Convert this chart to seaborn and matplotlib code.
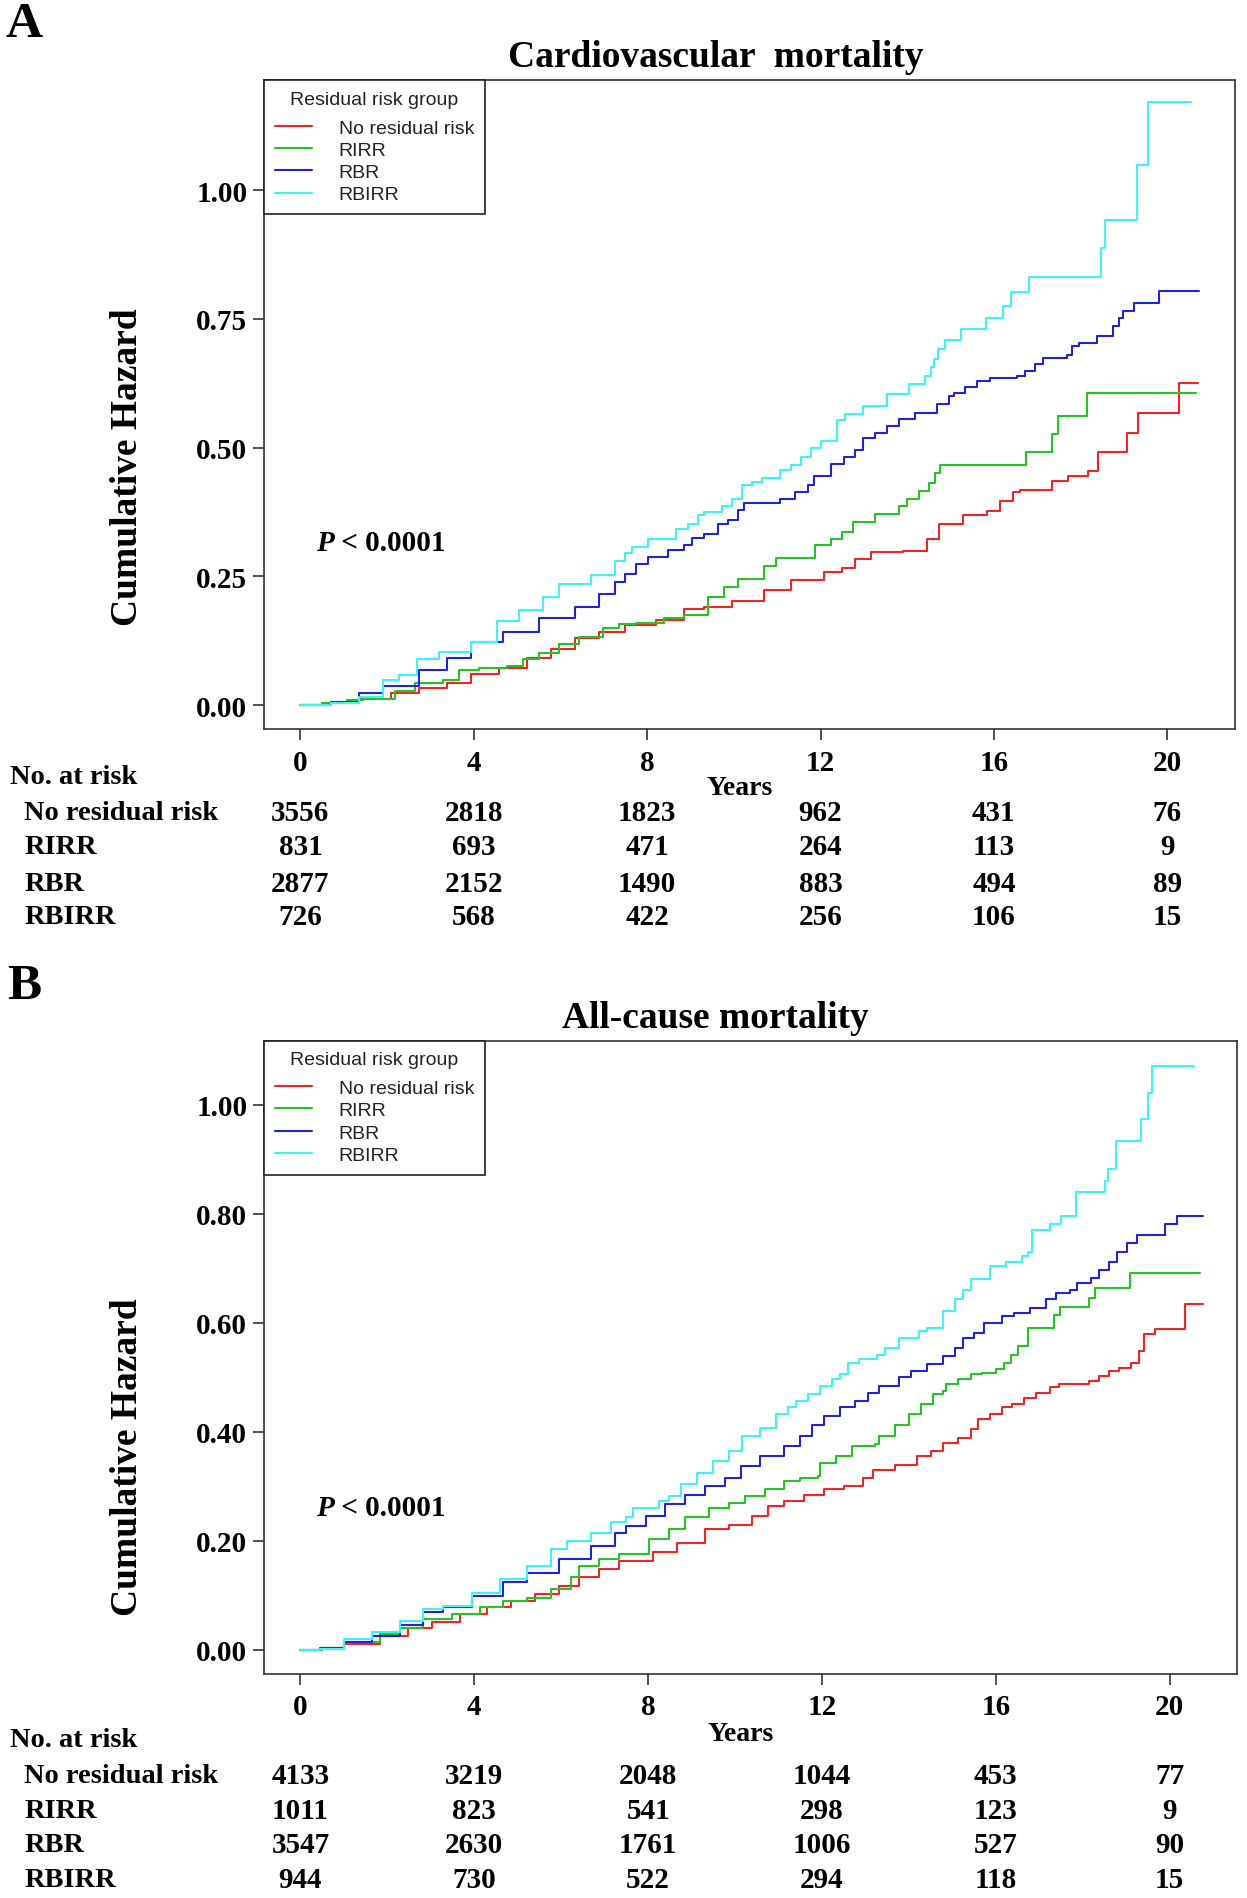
import numpy as np
import pandas as pd
import matplotlib
matplotlib.use("Agg")
import matplotlib.pyplot as plt
import matplotlib.transforms as mtrans
from matplotlib.lines import Line2D
from matplotlib.font_manager import FontProperties
import seaborn as sns

groups = ["No residual risk", "RIRR", "RBR", "RBIRR"]
colors = ["#F02424", "#26C226", "#2323D6", "#3DF4F4"]
year_ticks = [0, 4, 8, 12, 16, 20]

# ---- A: cardiovascular mortality (time in years, cumulative hazard)
cv_nrr_t = [0, 0.6, 1.35, 2.09, 2.74, 3.38, 3.94, 4.58, 5.23, 5.78, 6.33, 6.88, 7.48, 8.2, 8.85, 9.3, 9.96,
            10.7, 11.33, 12.07, 12.5, 12.8, 13.17, 13.9, 14.46, 14.73, 15.28, 15.83, 16.15, 16.43, 16.6,
            17.34, 17.7, 18.17, 18.4, 19.07, 19.32, 20.28, 20.72]
cv_nrr_h = [0, 0.005, 0.012, 0.024, 0.034, 0.044, 0.061, 0.072, 0.092, 0.109, 0.131, 0.143, 0.155, 0.165,
            0.186, 0.19, 0.2025, 0.223, 0.243, 0.259, 0.267, 0.283, 0.298, 0.300, 0.322, 0.352, 0.370,
            0.378, 0.397, 0.414, 0.418, 0.436, 0.445, 0.455, 0.492, 0.528, 0.567, 0.625, 0.625]
cv_rirr_t = [0, 0.5, 1.08, 1.45, 2.18, 2.65, 3.29, 3.66, 4.12, 4.76, 5.13, 5.5, 5.96, 6.42, 6.98, 7.35, 7.75,
             8.4, 8.85, 9.4, 9.77, 10.1, 10.7, 10.97, 11.88, 12.25, 12.5, 12.76, 13.26, 13.8, 14.0, 14.27,
             14.5, 14.64, 14.75, 16.73, 17.35, 17.47, 18.15, 20.67]
cv_rirr_h = [0, 0.004, 0.01, 0.012, 0.027, 0.044, 0.048, 0.068, 0.072, 0.076, 0.089, 0.102, 0.119, 0.133,
             0.15, 0.157, 0.160, 0.17, 0.175, 0.21, 0.23, 0.245, 0.27, 0.286, 0.312, 0.323, 0.336, 0.356,
             0.371, 0.387, 0.40, 0.416, 0.432, 0.451, 0.466, 0.492, 0.527, 0.562, 0.606, 0.606]
cv_rbr_t = [0, 0.7, 1.35, 1.9, 2.74, 3.38, 3.94, 4.67, 5.5, 6.33, 6.88, 7.25, 7.48, 7.75, 8.03, 8.49, 8.85,
            9.04, 9.31, 9.63, 9.86, 10.1, 10.23, 11.06, 11.4, 11.7, 11.84, 12.25, 12.53, 12.8, 12.99, 13.26,
            13.54, 13.81, 14.18, 14.69, 14.97, 15.07, 15.34, 15.6, 15.9, 16.54, 16.72, 16.95, 17.13, 17.68,
            17.8, 17.96, 18.37, 18.74, 18.88, 18.97, 19.23, 19.8, 20.73]
cv_rbr_h = [0, 0.006, 0.024, 0.0375, 0.068, 0.092, 0.123, 0.143, 0.17, 0.191, 0.215, 0.239, 0.254, 0.274,
            0.288, 0.301, 0.311, 0.325, 0.332, 0.352, 0.359, 0.379, 0.393, 0.40, 0.414, 0.427, 0.446, 0.468,
            0.481, 0.495, 0.519, 0.529, 0.543, 0.555, 0.567, 0.584, 0.601, 0.607, 0.617, 0.63, 0.636, 0.64,
            0.649, 0.662, 0.675, 0.681, 0.697, 0.704, 0.717, 0.736, 0.752, 0.766, 0.781, 0.805, 0.805]
cv_rbirr_t = [0, 0.7, 1.35, 1.9, 2.28, 2.69, 3.2, 3.94, 4.53, 5.04, 5.59, 5.96, 6.7, 7.25, 7.48, 7.66, 8.03,
              8.67, 8.95, 9.18, 9.31, 9.73, 9.96, 10.19, 10.41, 10.64, 11.06, 11.33, 11.56, 11.79, 12.02,
              12.39, 12.57, 12.99, 13.53, 14.04, 14.4, 14.55, 14.62, 14.7, 14.88, 15.23, 15.82, 16.22, 16.4,
              16.81, 18.47, 18.56, 19.29, 19.55, 20.55]
cv_rbirr_h = [0, 0.005, 0.015, 0.048, 0.058, 0.089, 0.104, 0.123, 0.164, 0.184, 0.211, 0.235, 0.252, 0.28,
              0.295, 0.308, 0.322, 0.342, 0.352, 0.37, 0.376, 0.387, 0.40, 0.427, 0.434, 0.441, 0.457, 0.467,
              0.481, 0.499, 0.514, 0.554, 0.566, 0.581, 0.604, 0.623, 0.64, 0.656, 0.672, 0.691, 0.709, 0.730,
              0.752, 0.775, 0.802, 0.831, 0.887, 0.943, 1.050, 1.172, 1.172]

cv_risk_nrr = [3556, 2818, 1823, 962, 431, 76]
cv_risk_rirr = [831, 693, 471, 264, 113, 9]
cv_risk_rbr = [2877, 2152, 1490, 883, 494, 89]
cv_risk_rbirr = [726, 568, 422, 256, 106, 15]

# ---- B: all-cause mortality
ac_nrr_t = [0, 0.5, 1.0, 1.83, 2.47, 3.02, 3.66, 4.3, 4.85, 5.4, 5.95, 6.41, 6.87, 7.33, 8.12, 8.67, 9.3,
            9.85, 10.4, 10.76, 11.13, 11.59, 12.04, 12.5, 12.95, 13.18, 13.68, 14.19, 14.5, 14.78, 15.14,
            15.42, 15.6, 15.87, 16.15, 16.38, 16.65, 16.92, 17.24, 17.45, 18.15, 18.38, 18.61, 18.84, 19.11,
            19.3, 19.41, 19.66, 20.35, 20.76]
ac_nrr_h = [0, 0.002, 0.01, 0.026, 0.041, 0.051, 0.066, 0.078, 0.09, 0.102, 0.118, 0.133, 0.148, 0.163,
            0.179, 0.197, 0.221, 0.23, 0.246, 0.264, 0.273, 0.285, 0.295, 0.301, 0.316, 0.331, 0.34, 0.355,
            0.365, 0.38, 0.389, 0.405, 0.424, 0.433, 0.445, 0.451, 0.463, 0.472, 0.482, 0.488, 0.494, 0.503,
            0.512, 0.518, 0.527, 0.548, 0.579, 0.589, 0.635, 0.635]
ac_rirr_t = [0, 0.5, 1.0, 1.83, 2.28, 2.83, 3.48, 4.12, 4.67, 5.22, 5.77, 6.23, 6.41, 6.87, 7.33, 8.03, 8.48,
             8.85, 9.4, 9.85, 10.22, 10.68, 11.13, 11.49, 11.9, 11.95, 12.32, 12.68, 13.23, 13.32, 13.68,
             14.0, 14.28, 14.55, 14.78, 14.85, 15.14, 15.42, 15.69, 16.01, 16.19, 16.35, 16.51, 16.74, 17.33,
             17.47, 18.15, 18.29, 19.09, 20.69]
ac_rirr_h = [0, 0.003, 0.014, 0.029, 0.041, 0.057, 0.066, 0.078, 0.09, 0.096, 0.112, 0.133, 0.154, 0.166,
             0.176, 0.203, 0.221, 0.243, 0.261, 0.27, 0.282, 0.295, 0.31, 0.316, 0.319, 0.343, 0.355, 0.374,
             0.377, 0.392, 0.412, 0.433, 0.451, 0.469, 0.476, 0.488, 0.497, 0.506, 0.509, 0.515, 0.527, 0.542,
             0.557, 0.591, 0.615, 0.629, 0.646, 0.664, 0.691, 0.691]
ac_rbr_t = [0, 0.45, 1.0, 1.64, 2.28, 2.83, 3.29, 3.94, 4.67, 5.22, 5.95, 6.69, 7.24, 7.48, 7.94, 8.39, 8.85,
            9.3, 9.76, 10.13, 10.58, 11.13, 11.49, 11.77, 12.04, 12.41, 12.77, 13.05, 13.32, 13.78, 14.05,
            14.41, 14.78, 15.05, 15.24, 15.51, 15.74, 16.15, 16.42, 16.79, 17.15, 17.38, 17.7, 17.88, 18.2,
            18.38, 18.61, 18.79, 19.02, 19.25, 19.89, 20.16, 20.76]
ac_rbr_h = [0, 0.003, 0.014, 0.026, 0.045, 0.069, 0.078, 0.099, 0.124, 0.142, 0.166, 0.191, 0.215, 0.227,
            0.246, 0.267, 0.285, 0.3, 0.316, 0.337, 0.355, 0.374, 0.392, 0.412, 0.43, 0.445, 0.457, 0.472,
            0.484, 0.5, 0.512, 0.524, 0.539, 0.554, 0.573, 0.582, 0.6, 0.612, 0.618, 0.627, 0.643, 0.655,
            0.661, 0.673, 0.682, 0.697, 0.712, 0.731, 0.746, 0.761, 0.782, 0.796, 0.796]
ac_rbirr_t = [0, 0.45, 1.0, 1.64, 2.28, 2.83, 3.29, 3.94, 4.58, 5.22, 5.77, 6.14, 6.69, 7.15, 7.48, 7.66,
              8.26, 8.48, 8.76, 9.12, 9.49, 9.85, 10.17, 10.58, 10.95, 11.22, 11.4, 11.68, 11.95, 12.22,
              12.41, 12.59, 12.86, 13.27, 13.46, 13.78, 14.23, 14.41, 14.78, 15.05, 15.24, 15.42, 15.86,
              16.24, 16.6, 16.74, 16.83, 17.24, 17.49, 17.84, 18.52, 18.59, 18.77, 19.34, 19.5, 19.59, 20.57]
ac_rbirr_h = [0, 0.002, 0.02, 0.032, 0.054, 0.075, 0.081, 0.105, 0.13, 0.154, 0.185, 0.2, 0.215, 0.234,
              0.243, 0.261, 0.273, 0.282, 0.304, 0.325, 0.346, 0.365, 0.392, 0.408, 0.433, 0.445, 0.457,
              0.469, 0.484, 0.497, 0.506, 0.527, 0.533, 0.542, 0.554, 0.573, 0.585, 0.591, 0.621, 0.643,
              0.661, 0.680, 0.705, 0.712, 0.722, 0.731, 0.771, 0.781, 0.796, 0.84, 0.861, 0.883, 0.934,
              0.974, 1.022, 1.072, 1.072]

ac_risk_nrr = [4133, 3219, 2048, 1044, 453, 77]
ac_risk_rirr = [1011, 823, 541, 298, 123, 9]
ac_risk_rbr = [3547, 2630, 1761, 1006, 527, 90]
ac_risk_rbirr = [944, 730, 522, 294, 118, 15]


def long_frame(curves):
    parts = []
    for name, (t, h) in zip(groups, curves):
        parts.append(pd.DataFrame({"time": t, "hazard": h, "group": name}))
    return pd.concat(parts, ignore_index=True)


cv_df = long_frame([(cv_nrr_t, cv_nrr_h), (cv_rirr_t, cv_rirr_h),
                    (cv_rbr_t, cv_rbr_h), (cv_rbirr_t, cv_rbirr_h)])
ac_df = long_frame([(ac_nrr_t, ac_nrr_h), (ac_rirr_t, ac_rirr_h),
                    (ac_rbr_t, ac_rbr_h), (ac_rbirr_t, ac_rbirr_h)])

sns.set_style("white")
plt.rcParams["font.family"] = ["Liberation Serif", "DejaVu Serif"]
plt.rcParams["font.weight"] = "bold"
plt.rcParams["text.color"] = "black"
plt.rcParams["axes.labelcolor"] = "black"
plt.rcParams["xtick.labelcolor"] = "black"
plt.rcParams["ytick.labelcolor"] = "black"

fig = plt.figure(figsize=(12.47, 18.99), dpi=100)
leg_font = FontProperties(family=["Liberation Sans", "DejaVu Sans"], size=14, weight="normal")

panels = [
    dict(df=cv_df, rect=[0.2117, 0.6154, 0.7786, 0.3419], ylim=(-0.047, 1.214),
         yt=[0, 0.25, 0.5, 0.75, 1.0], title="Cardiovascular  mortality", title_y=0.9695,
         letter="A", letter_y=0.987, ylab_y=0.7538, p_y=0.315,
         risk=[cv_risk_nrr, cv_risk_rirr, cv_risk_rbr, cv_risk_rbirr],
         head_y=-0.0728, rows_y=[-0.1287, -0.181, -0.237, -0.289], years_y=-0.0896),
    dict(df=ac_df, rect=[0.2117, 0.1180, 0.7806, 0.3335], ylim=(-0.044, 1.118),
         yt=[0, 0.2, 0.4, 0.6, 0.8, 1.0], title="All-cause mortality", title_y=0.4635,
         letter="B", letter_y=0.4802, ylab_y=0.2328, p_y=0.262,
         risk=[ac_risk_nrr, ac_risk_rirr, ac_risk_rbr, ac_risk_rbirr],
         head_y=-0.1033, rows_y=[-0.1606, -0.216, -0.2696, -0.325], years_y=-0.0937),
]

for p in panels:
    ax = fig.add_axes(p["rect"])
    sns.lineplot(data=p["df"], x="time", y="hazard", hue="group", hue_order=groups,
                 palette=colors, drawstyle="steps-post", estimator=None, sort=False,
                 lw=1.5, legend=False, ax=ax)
    ax.set_xlim(-0.84, 21.56)
    ax.set_ylim(*p["ylim"])
    ax.set_xticks(year_ticks)
    ax.set_xticklabels([str(v) for v in year_ticks])
    ax.set_yticks(p["yt"])
    ax.set_yticklabels(["%.2f" % v for v in p["yt"]])
    ax.set_xlabel("")
    ax.set_ylabel("")
    for s in ax.spines.values():
        s.set_color("#333333")
        s.set_linewidth(1.2)
    ax.tick_params(axis="both", which="major", direction="out", length=8, width=1.2,
                   color="#333333", labelcolor="black", labelsize=21, bottom=True, left=True)
    ax.tick_params(axis="x", pad=6)
    ax.tick_params(axis="y", pad=4)

    handles = [Line2D([], [], color=c, lw=1.5) for c in colors]
    leg = ax.legend(handles, groups, title="Residual risk group", loc="upper left",
                    bbox_to_anchor=(0, 1), borderaxespad=0, fancybox=False, framealpha=1,
                    edgecolor="#222222", prop=leg_font, title_fontproperties=leg_font,
                    handlelength=1.9, handletextpad=1.4, labelspacing=0.24, borderpad=0.55)
    leg._legend_box.sep = 8
    leg.get_frame().set_linewidth(1.2)
    for t in leg.get_texts():
        t.set_color("#222222")
    leg.get_title().set_color("#222222")

    # P value
    ptxt = ax.text(0.36, p["p_y"], "P", fontsize=21, fontstyle="italic", fontweight="bold",
                   va="center", ha="left")
    ax.annotate(" < 0.0001", xy=(1, 0.5), xycoords=ptxt, fontsize=21, fontweight="bold",
                va="center", ha="left")

    # axis label and titles
    ax.text(0.49, p["years_y"], "Years", transform=ax.transAxes, fontsize=20,
            fontweight="bold", ha="center", va="center")
    fig.text(0.102, p["ylab_y"], "Cumulative Hazard", rotation=90, fontsize=27,
             fontweight="bold", ha="center", va="center")
    fig.text(0.574, p["title_y"], p["title"], fontsize=27, fontweight="bold",
             ha="center", va="center")
    fig.text(0.0194, p["letter_y"], p["letter"], fontsize=37, fontweight="bold",
             ha="center", va="center")

    # number at risk table
    lab_tr = mtrans.blended_transform_factory(fig.transFigure, ax.transAxes)
    num_tr = mtrans.blended_transform_factory(ax.transData, ax.transAxes)
    ax.text(0.0078, p["head_y"], "No. at risk", transform=lab_tr, fontsize=20.5,
            fontweight="bold", ha="left", va="center", clip_on=False)
    for name, counts, ry in zip(groups, p["risk"], p["rows_y"]):
        ax.text(0.0194, ry, name, transform=lab_tr, fontsize=20.5, fontweight="bold",
                ha="left", va="center", clip_on=False)
        for yr, n in zip(year_ticks, counts):
            ax.text(yr, ry, str(n), transform=num_tr, fontsize=21, fontweight="bold",
                    ha="center", va="center", clip_on=False)

fig.savefig("out.png", dpi=100, facecolor="white")
